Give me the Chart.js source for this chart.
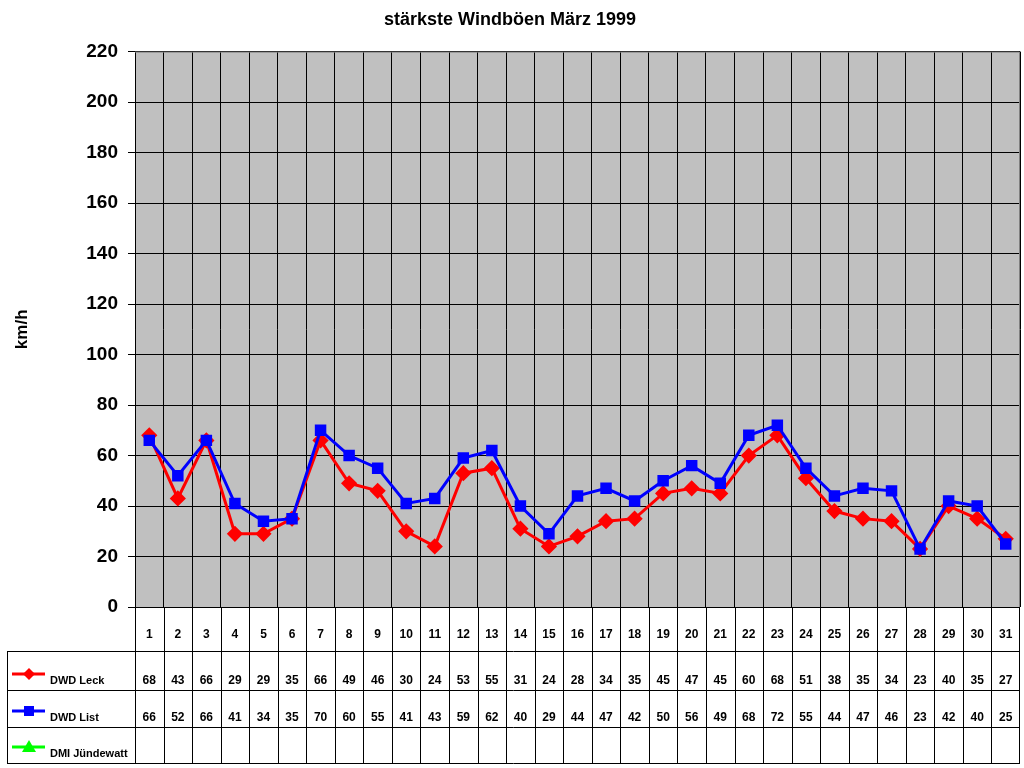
<!DOCTYPE html>
<html>
<head>
<meta charset="utf-8">
<script src="https://cdn.jsdelivr.net/npm/chart.js@4"></script>
<style>
  html, body { margin: 0; padding: 0; background: #fff; }
  #wrap { width: 1024px; height: 768px; }
</style>
</head>
<body>
<div id="wrap"><canvas id="chart" width="1024" height="768"></canvas></div>
<script>
// Tage im März 1999
const days = ['1','2','3','4','5','6','7','8','9','10','11','12','13','14','15','16','17','18','19','20','21','22','23','24','25','26','27','28','29','30','31']
const dwdLeck = [68,43,66,29,29,35,66,49,46,30,24,53,55,31,24,28,34,35,45,47,45,60,68,51,38,35,34,23,40,35,27]
const dwdList = [66,52,66,41,34,35,70,60,55,41,43,59,62,40,29,44,47,42,50,56,49,68,72,55,44,47,46,23,42,40,25]
const dmiJuendewatt = days.map(() => null)

const FONT = "'Liberation Sans', Arial, sans-serif"

// table rows below the plot (bottom edges)
const rowBottoms = [651, 690, 727, 763]

const plotBg = {
  id: 'plotBg',
  beforeDraw(chart) {
    const {ctx, chartArea: a} = chart
    ctx.save()
    ctx.fillStyle = '#c0c0c0'
    ctx.fillRect(a.left, a.top, a.right - a.left, a.bottom - a.top)
    ctx.restore()
  },
  beforeDatasetsDraw(chart) {
    const {ctx, chartArea: a} = chart
    ctx.save()
    ctx.strokeStyle = '#808080'
    ctx.lineWidth = 1
    ctx.beginPath()
    ctx.moveTo(a.left, a.top + 0.5)
    ctx.lineTo(a.right - 0.5, a.top + 0.5)
    ctx.lineTo(a.right - 0.5, a.bottom)
    ctx.stroke()
    ctx.restore()
  }
}

const dataTable = {
  id: 'dataTable',
  afterDraw(chart) {
    const {ctx, chartArea: a} = chart
    const x = chart.scales.x
    const n = days.length
    const w = (a.right - a.left) / n
    const top = a.bottom
    const bottom = rowBottoms[rowBottoms.length - 1]
    ctx.save()
    ctx.strokeStyle = '#000'
    ctx.lineWidth = 1
    ctx.beginPath()
    for (let i = 0; i <= n; i++) {
      const px = Math.round(a.left + i * w) - (i === n ? 0.5 : -0.5)
      ctx.moveTo(px, top)
      ctx.lineTo(px, bottom)
    }
    rowBottoms.forEach(y => {
      ctx.moveTo(7, y + 0.5)
      ctx.lineTo(a.right, y + 0.5)
    })
    ctx.moveTo(7.5, rowBottoms[0])
    ctx.lineTo(7.5, bottom)
    ctx.stroke()

    ctx.fillStyle = '#000'
    ctx.font = 'bold 12px ' + FONT
    ctx.textAlign = 'center'
    ctx.textBaseline = 'middle'
    days.forEach((d, i) => ctx.fillText(d, x.getPixelForValue(i), 635))

    const series = [dwdLeck, dwdList, dmiJuendewatt]
    series.forEach((vals, r) => {
      const cy = rowBottoms[r + 1] - 9
      vals.forEach((v, i) => {
        if (v !== null) ctx.fillText(String(v), x.getPixelForValue(i), cy)
      })
    })

    // legend keys
    chart.data.datasets.forEach((ds, r) => {
      const ky = rowBottoms[r + 1] - 16
      ctx.strokeStyle = ds.borderColor
      ctx.lineWidth = 3
      ctx.beginPath()
      ctx.moveTo(12, ky)
      ctx.lineTo(45, ky)
      ctx.stroke()
      ctx.fillStyle = ds.borderColor
      ctx.beginPath()
      const s = 6
      if (ds.pointStyle === 'rectRot') {
        ctx.moveTo(29, ky - s); ctx.lineTo(29 + s, ky); ctx.lineTo(29, ky + s); ctx.lineTo(29 - s, ky)
      } else if (ds.pointStyle === 'rect') {
        ctx.rect(29 - 5, ky - 5, 10, 10)
      } else {
        ctx.moveTo(29, ky - 7); ctx.lineTo(29 + 7, ky + 5); ctx.lineTo(29 - 7, ky + 5)
      }
      ctx.closePath()
      ctx.fill()
      ctx.fillStyle = '#000'
      ctx.textAlign = 'left'
      ctx.font = 'bold 11px ' + FONT
      ctx.fillText(ds.label, 50, rowBottoms[r + 1] - 9)
    })
    ctx.restore()
  }
}

new Chart(document.getElementById('chart'), {
  type: 'line',
  data: {
    labels: days,
    datasets: [
      {label: 'DWD Leck', data: dwdLeck, borderColor: '#ff0000', backgroundColor: '#ff0000', order: 2,
       borderWidth: 3, pointStyle: 'rectRot', pointRadius: 6, pointHoverRadius: 6, tension: 0},
      {label: 'DWD List', data: dwdList, borderColor: '#0000ff', backgroundColor: '#0000ff', order: 1,
       borderWidth: 3, pointStyle: 'rect', pointRadius: 6, pointHoverRadius: 6, tension: 0},
      {label: 'DMI Jündewatt', data: dmiJuendewatt, borderColor: '#00ff00', backgroundColor: '#00ff00', order: 0,
       borderWidth: 3, pointStyle: 'triangle', pointRadius: 6, tension: 0}
    ]
  },
  options: {
    responsive: false,
    animation: false,
    devicePixelRatio: 1,
    layout: {autoPadding: false, padding: {left: 0, right: 4, top: 0, bottom: 161}},
    plugins: {
      legend: {display: false},
      tooltip: {enabled: false},
      title: {
        display: true,
        text: 'stärkste Windböen März 1999',
        color: '#000',
        font: {family: FONT, size: 18, weight: 'bold'},
        padding: {top: 9, bottom: 21}
      }
    },
    scales: {
      x: {
        offset: true,
        grid: {offset: true, color: '#000', drawTicks: false},
        border: {display: false},
        ticks: {display: false},
        afterFit(s) { s.height = 0 }
      },
      y: {
        min: 0,
        max: 220,
        ticks: {stepSize: 20, color: '#000', padding: 10, font: {family: FONT, size: 19, weight: 'bold'}},
        grid: {color: '#000', tickLength: 7, tickColor: '#000'},
        border: {color: '#000'},
        title: {display: true, text: 'km/h', color: '#000', padding: {top: 12, bottom: 0},
                font: {family: FONT, size: 17, weight: 'bold'}},
        afterFit(s) { s.width = 135 }
      }
    }
  },
  plugins: [plotBg, dataTable]
})
</script>
</body>
</html>
